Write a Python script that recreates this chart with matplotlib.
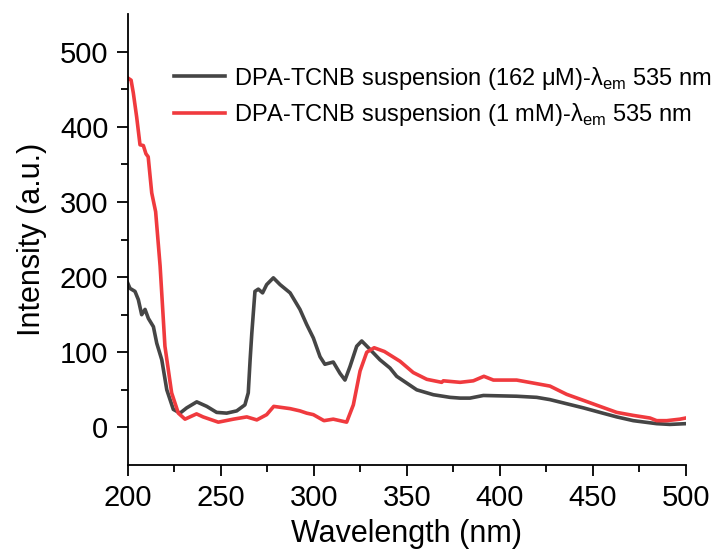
import matplotlib
matplotlib.use("Agg")
import matplotlib.pyplot as plt
import numpy as np

plt.rcParams['font.family'] = ['Liberation Sans', 'DejaVu Sans']
plt.rcParams['mathtext.fontset'] = 'custom'
plt.rcParams['mathtext.rm'] = 'Liberation Sans'

# DPA-TCNB suspension (162 uM)
wl_162 = [200, 201.2, 203.9, 205.7, 207.5, 209.3, 211.1, 213.8, 215.6, 218.3,
          221, 224.5, 228.1, 231.7, 237.1, 242.5, 247.8, 253.2, 258.6, 263,
          264.8, 265.8, 266.7, 268.4, 270.2, 272.5, 274.7, 278.3, 281.9, 287.3,
          292.6, 296.2, 299.8, 303.4, 306, 310.5, 314.1, 316.8, 319.5, 323.1,
          325.8, 329.4, 335.6, 341, 344.6, 355.4, 364.3, 373.3, 378.7, 384,
          391.2, 409.1, 419.9, 427, 445, 453.9, 462.9, 471.8, 484.4, 491.5, 500]
int_162 = [192, 185, 181, 170, 150, 157, 145, 134, 112, 90,
           50, 24, 19, 26, 34, 28, 20, 19, 22, 30,
           46, 90, 125, 181, 184, 179, 190, 199, 190, 179,
           157, 137, 119, 94, 84, 87, 72, 63, 81, 108,
           115, 106, 90, 79, 68, 50, 43.5, 40, 39, 39,
           42.5, 41.5, 40, 37, 26, 20, 14, 9, 5, 4, 5]

# DPA-TCNB suspension (1 mM)
wl_1m = [200, 201.8, 203, 204.8, 206.6, 208.4, 209.8, 211, 212.9, 215,
         217.4, 220, 223.6, 227.2, 230.8, 237, 240.5, 248.7, 256.8, 264,
         269.4, 274.7, 278.5, 287.3, 292.6, 296.2, 299.8, 305.5, 310.5, 317.7,
         321.3, 324.9, 328.5, 332.5, 338, 346.4, 353.5, 360.8, 368.8, 369.7,
         378.7, 385.8, 391.5, 396.6, 409.1, 418.1, 427, 436, 445, 453.9,
         462.9, 471.8, 480.8, 484.4, 489.8, 496.9, 500]
int_1m = [465, 462, 445, 413, 376, 375, 364, 360, 312, 287,
          215, 108, 46, 19, 11, 18, 14, 7, 11, 14,
          10, 17, 28, 25, 22, 19, 17, 9, 11, 7,
          30, 75, 100, 106, 101, 88, 73, 64, 60, 62,
          60, 62, 68, 63, 63, 59, 55, 44, 36, 28,
          20, 16, 12.5, 9, 9, 11, 12.5]

labels = [r'DPA-TCNB suspension (162 μM)-λ$_{\mathregular{em}}$ 535 nm',
          r'DPA-TCNB suspension (1 mM)-λ$_{\mathregular{em}}$ 535 nm']

fig = plt.figure(figsize=(7.16, 5.52), dpi=100)
ax = fig.add_axes([0.1784, 0.1576, 0.7793, 0.817])

ax.plot(wl_162, int_162, color='#454545', lw=2.6, label=labels[0])
ax.plot(wl_1m, int_1m, color='#F03A3E', lw=2.6, label=labels[1])

ax.set_xlim(200, 500)
ax.set_ylim(-50, 550)
ax.set_xticks(np.arange(200, 501, 50))
ax.set_xticks(np.arange(225, 500, 50), minor=True)
ax.set_yticks(np.arange(0, 501, 100))
ax.set_yticks(np.arange(50, 500, 100), minor=True)

for s in ['top', 'right']:
    ax.spines[s].set_visible(False)
for s in ['left', 'bottom']:
    ax.spines[s].set_linewidth(1.3)

ax.tick_params(which='major', direction='out', length=8, width=1.3, labelsize=21, pad=6)
ax.tick_params(which='minor', direction='out', length=5, width=1.3)

ax.set_xlabel('Wavelength (nm)', fontsize=22, labelpad=5)
ax.set_ylabel('Intensity (a.u.)', fontsize=22, labelpad=9)

ax.legend(loc='upper right', frameon=False, fontsize=17, handlelength=2.15,
          handletextpad=0.4, labelspacing=0.4, bbox_to_anchor=(1.085, 0.935))

fig.savefig('out.png', dpi=100)
